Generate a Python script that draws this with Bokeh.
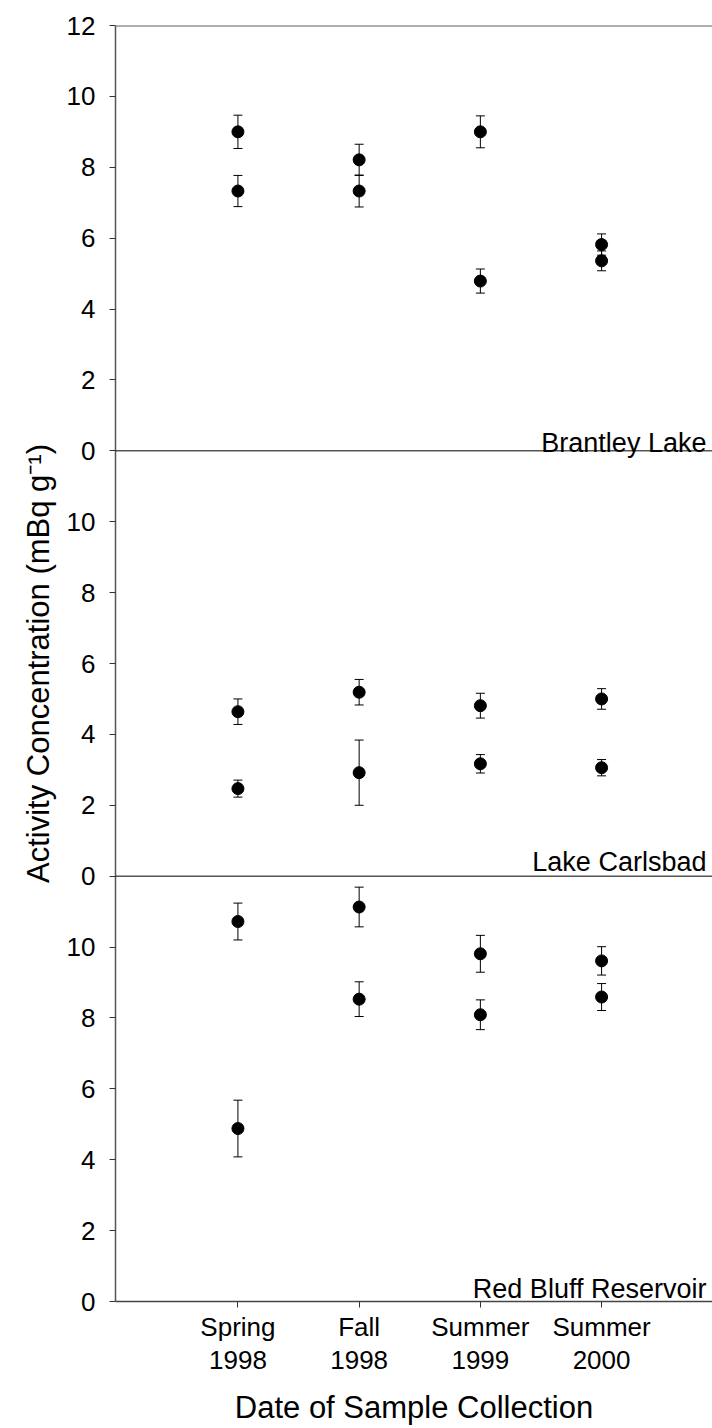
from bokeh.plotting import figure
from bokeh.models import (Range1d, FixedTicker, Whisker, TeeHead, ColumnDataSource,
                          Span, Label)
from bokeh.embed import file_html
from bokeh.resources import INLINE

# ---------------- data ----------------
categories = ["Spring\n1998", "Fall\n1998", "Summer\n1999", "Summer\n2000"]
x_pos = [1, 2, 3, 4]

panel_names = ["Brantley Lake", "Lake Carlsbad", "Red Bluff Reservoir"]

brantley_a = [9.00, 8.21, 9.00, 5.82]
brantley_a_err = [0.47, 0.44, 0.45, 0.30]
brantley_b = [7.33, 7.33, 4.79, 5.36]
brantley_b_err = [0.44, 0.45, 0.34, 0.28]

carlsbad_a = [4.64, 5.19, 4.81, 5.00]
carlsbad_a_err = [0.36, 0.36, 0.35, 0.29]
carlsbad_b = [2.47, 2.92, 3.17, 3.06]
carlsbad_b_err = [0.24, 0.92, 0.26, 0.23]

redbluff_a = [10.72, 11.13, 9.81, 9.61]
redbluff_a_err = [0.52, 0.56, 0.52, 0.40]
redbluff_b = [4.88, 8.53, 8.09, 8.59]
redbluff_b_err = [0.80, 0.49, 0.42, 0.38]

y_ticks_panel = [0, 2, 4, 6, 8, 10, 12]
panel_max = 12

series = {
    "Brantley Lake": [(brantley_a, brantley_a_err), (brantley_b, brantley_b_err)],
    "Lake Carlsbad": [(carlsbad_a, carlsbad_a_err), (carlsbad_b, carlsbad_b_err)],
    "Red Bluff Reservoir": [(redbluff_a, redbluff_a_err), (redbluff_b, redbluff_b_err)],
}

# ---------------- styles ----------------
FONT = "Liberation Sans"
n_pan = len(panel_names)
total = panel_max * n_pan

p = figure(width=712, height=1428,
           x_range=Range1d(-0.01, 4.915), y_range=Range1d(0, total),
           output_backend="svg", toolbar_location=None,
           min_border_left=115, min_border_right=0,
           min_border_top=25, min_border_bottom=126)
p.grid.visible = False
p.outline_line_color = None
p.background_fill_color = "white"
p.border_fill_color = "white"

range_names = ["brantley", "carlsbad", "redbluff"]
extra = {}
for k, rn in enumerate(range_names):
    extra[rn] = Range1d(-(n_pan - 1 - k) * panel_max, panel_max + k * panel_max)
p.extra_y_ranges = extra

# y axis (one axis spanning the stacked panels)
all_ticks = []
overrides = {}
for k in range(n_pan):
    base = (n_pan - 1 - k) * panel_max
    for t in y_ticks_panel:
        pos = base + t
        if pos not in overrides:
            all_ticks.append(pos)
            overrides[pos] = str(t)
        elif t == 0:
            overrides[pos] = "0"
all_ticks = sorted(all_ticks)
overrides = {int(k): v for k, v in overrides.items()}
overrides[total] = str(panel_max)

ya = p.yaxis[0]
ya.ticker = FixedTicker(ticks=all_ticks)
ya.major_label_overrides = overrides
ya.minor_tick_line_color = None
ya.major_tick_in = 0
ya.major_tick_out = 6
ya.major_tick_line_color = "#333333"
ya.axis_line_color = "#555555"
ya.axis_line_width = 1.5
ya.major_label_text_font = FONT
ya.major_label_text_font_size = "26px"
ya.major_label_text_color = "black"
ya.major_label_standoff = 14
ya.axis_label = "Activity Concentration (mBq g\u207b\u00b9)"
ya.axis_label_text_font = FONT
ya.axis_label_text_font_size = "31px"
ya.axis_label_text_font_style = "normal"
ya.axis_label_text_color = "black"
ya.axis_label_standoff = 8

xa = p.xaxis[0]
xa.ticker = FixedTicker(ticks=x_pos)
xa.major_label_overrides = {x: c for x, c in zip(x_pos, categories)}
xa.minor_tick_line_color = None
xa.major_tick_in = 0
xa.major_tick_out = 6
xa.major_tick_line_color = "#333333"
xa.axis_line_color = "#444444"
xa.axis_line_width = 1.5
xa.major_label_text_font = FONT
xa.major_label_text_font_size = "26px"
xa.major_label_text_color = "black"
xa.major_label_text_line_height = 1.12
xa.major_label_standoff = 4
xa.axis_label = "Date of Sample Collection"
xa.axis_label_text_font = FONT
xa.axis_label_text_font_size = "31px"
xa.axis_label_text_font_style = "normal"
xa.axis_label_text_color = "black"
xa.axis_label_standoff = 12

# top frame line
p.add_layout(Span(location=panel_max, dimension="width", y_range_name=range_names[0],
                  line_color="#606060", line_width=2))

label_offsets = [0.21, 0.40, 0.34]
for k, (name, rn) in enumerate(zip(panel_names, range_names)):
    if k < n_pan - 1:
        p.add_layout(Span(location=0, dimension="width", y_range_name=rn,
                          line_color="black", line_width=1))
    for vals, errs in series[name]:
        src = ColumnDataSource(dict(
            x=x_pos, y=vals,
            upper=[v + e for v, e in zip(vals, errs)],
            lower=[v - e for v, e in zip(vals, errs)],
        ))
        w = Whisker(base="x", upper="upper", lower="lower", source=src,
                    y_range_name=rn, line_color="black", line_width=1,
                    upper_head=TeeHead(size=9, line_color="black", line_width=1),
                    lower_head=TeeHead(size=9, line_color="black", line_width=1))
        p.add_layout(w)
        p.scatter("x", "y", source=src, y_range_name=rn, size=12,
                  fill_color="black", line_color="black", marker="circle")
    p.add_layout(Label(x=4.865, y=label_offsets[k], y_range_name=rn, text=name,
                       text_align="right", text_baseline="alphabetic",
                       text_font=FONT, text_font_size="27px", text_color="black"))

open("out.html", "w").write(file_html(p, INLINE))
